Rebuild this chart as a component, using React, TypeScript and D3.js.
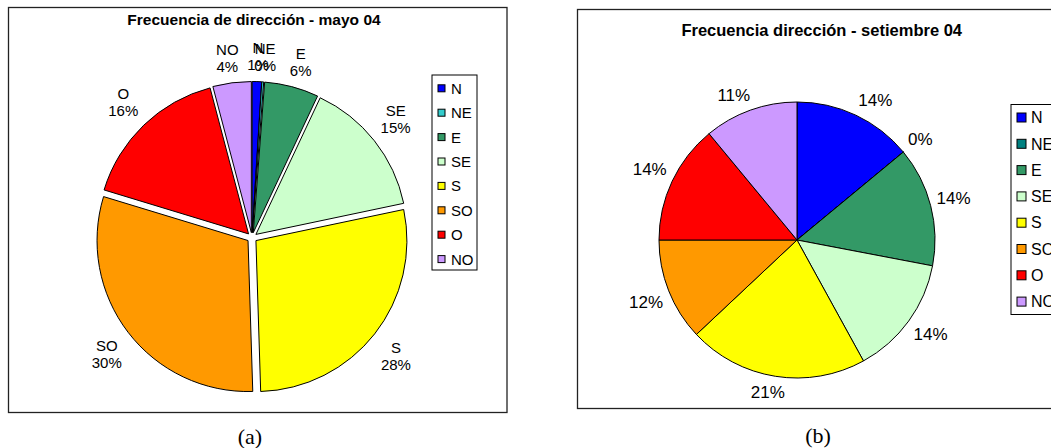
import React from "react";
import * as d3 from "d3";

const categories = ["N", "NE", "E", "SE", "S", "SO", "O", "NO"];
const mayoValues = [1.0, 0.2, 5.8, 14.7, 27.8, 30.2, 16.2, 4.1];
const setiembreValues = [14, 0, 14, 14, 21, 12, 14, 11];
const mayoColors = ["#0000FF", "#33CCCC", "#339966", "#CCFFCC", "#FFFF00", "#FF9900", "#FF0000", "#CC99FF"];
const setiembreColors = ["#0000FF", "#008080", "#339966", "#CCFFCC", "#FFFF00", "#FF9900", "#FF0000", "#CC99FF"];
const mayoTitle = "Frecuencia de dirección - mayo 04";
const setiembreTitle = "Frecuencia dirección - setiembre 04";
const panelLabels = ["(a)", "(b)"];

const FONT = "Arial, 'Liberation Sans', sans-serif";

const CHAR_W: Record<string, number> = { N: 0.722, E: 0.667, S: 0.667, O: 0.778, "%": 0.889 };
function textWidth(s: string, fs: number) {
  let w = 0;
  for (const ch of s) w += CHAR_W[ch] ?? 0.556;
  return w * fs;
}
const clamp1 = (v: number) => Math.max(-1, Math.min(1, v));

type PieProps = {
  cx: number; cy: number; r: number; values: number[]; colors: string[];
  explode: number; gap: number; showNames: boolean; fontSize: number; lineH: number;
};

function PieChart({ cx, cy, r, values, colors, explode, gap, showNames, fontSize, lineH }: PieProps) {
  const total = d3.sum(values);
  const arcs = d3.pie<number>().sort(null).value((d) => d)(values);
  const arcGen = d3.arc<d3.PieArcDatum<number>>().innerRadius(0).outerRadius(r);
  const half = fontSize * 0.36;
  return (
    <g>
      {arcs.map((a, i) => {
        const mid = (a.startAngle + a.endAngle) / 2;
        const dx = explode * Math.sin(mid);
        const dy = -explode * Math.cos(mid);
        return (
          <path key={"s" + i} d={arcGen(a) || ""} transform={`translate(${cx + dx},${cy + dy})`}
            fill={colors[i]} stroke="#000" strokeWidth={1} strokeLinejoin="round" />
        );
      })}
      {arcs.map((a, i) => {
        const mid = (a.startAngle + a.endAngle) / 2;
        const s = Math.sin(mid);
        const c = Math.cos(mid);
        const pct = Math.round((values[i] / total) * 100) + "%";
        const lines = showNames ? [categories[i], pct] : [pct];
        const w = Math.max(...lines.map((l) => textWidth(l, fontSize)));
        const h = lines.length * lineH;
        const dist = r + explode + gap;
        const lx = cx + dist * s + (w / 2) * clamp1(2.5 * s);
        const ly = cy - dist * c - (h / 2) * clamp1(2.5 * c);
        return (
          <g key={"l" + i} fontFamily={FONT} fontSize={fontSize} textAnchor="middle" fill="#000">
            {lines.map((l, k) => (
              <text key={k} x={lx} y={ly + (k - (lines.length - 1) / 2) * lineH + half}>{l}</text>
            ))}
          </g>
        );
      })}
    </g>
  );
}

type LegendProps = { x: number; y: number; w: number; h: number; colors: string[]; step: number; first: number; sq: number; fontSize: number; textDx: number };

function Legend({ x, y, w, h, colors, step, first, sq, fontSize, textDx }: LegendProps) {
  return (
    <g>
      <rect x={x} y={y} width={w} height={h} fill="#fff" stroke="#000" strokeWidth={1} />
      {categories.map((c, i) => {
        const yc = y + first + i * step;
        return (
          <g key={c}>
            <rect x={x + 6} y={yc - sq / 2} width={sq} height={sq} fill={colors[i]} stroke="#000" strokeWidth={1} />
            <text x={x + textDx} y={yc + fontSize * 0.36} fontFamily={FONT} fontSize={fontSize} fill="#000">{c}</text>
          </g>
        );
      })}
    </g>
  );
}

export default function App() {
  return (
    <svg width={1051} height={448} style={{ position: "absolute", left: 0, top: 0, background: "#fff" }}>
      <rect x={0} y={0} width={1051} height={448} fill="#fff" />
      {/* Panel (a) */}
      <rect x={8.5} y={7.5} width={498.5} height={405} fill="#fff" stroke="#222" strokeWidth={1.3} />
      <text x={254} y={25} textAnchor="middle" fontFamily={FONT} fontWeight="bold" fontSize={15.5} fill="#000">{mayoTitle}</text>
      <PieChart cx={252} cy={237.5} r={151} values={mayoValues} colors={mayoColors} explode={5}
        gap={8} showNames={true} fontSize={15} lineH={17} />
      <Legend x={432} y={75} w={45} h={195} colors={mayoColors} step={24.4} first={13.3} sq={7} fontSize={15} textDx={19} />
      {/* Panel (b) */}
      <rect x={577.5} y={9.5} width={500} height={399} fill="#fff" stroke="#222" strokeWidth={1.3} />
      <text x={821.7} y={36} textAnchor="middle" fontFamily={FONT} fontWeight="bold" fontSize={16.5} fill="#000">{setiembreTitle}</text>
      <PieChart cx={797} cy={240} r={138} values={setiembreValues} colors={setiembreColors} explode={0}
        gap={6} showNames={false} fontSize={17} lineH={19} />
      <Legend x={1011} y={104.5} w={80} h={210} colors={setiembreColors} step={26.3} first={13} sq={9} fontSize={16} textDx={20} />
      <text x={250} y={444} textAnchor="middle" fontFamily="'Liberation Serif', 'Times New Roman', serif" fontSize={22} fill="#000">{panelLabels[0]}</text>
      <text x={818} y={443} textAnchor="middle" fontFamily="'Liberation Serif', 'Times New Roman', serif" fontSize={22} fill="#000">{panelLabels[1]}</text>
    </svg>
  );
}
